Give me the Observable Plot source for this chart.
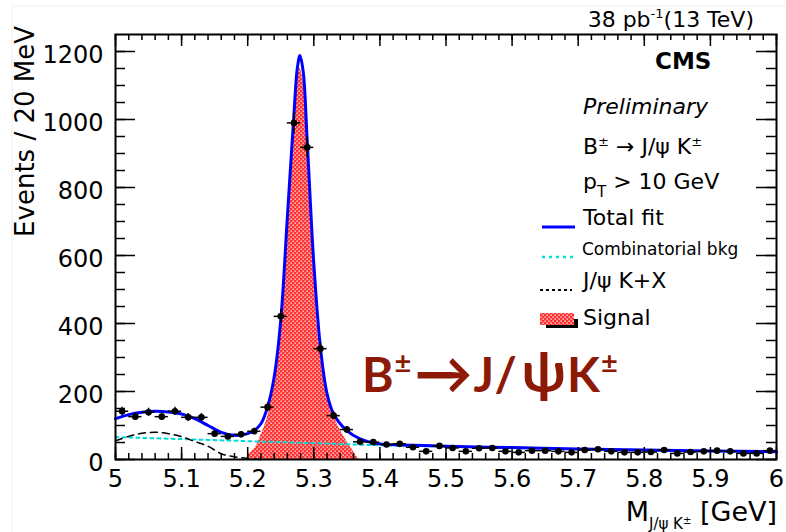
<!DOCTYPE html>
<html><head><meta charset="utf-8">
<script src="https://cdn.jsdelivr.net/npm/d3@7"></script>
<script src="https://cdn.jsdelivr.net/npm/@observablehq/plot@0.6"></script>
<style>
body{margin:0;background:#fff;}
#wrap{position:relative;width:786px;height:532px;overflow:hidden;font-family:"DejaVu Sans",sans-serif;color:#000;background:#fff;}
.t{position:absolute;white-space:nowrap;line-height:1;}
#wrap svg{position:absolute;left:0;top:0;}
</style></head><body><div id="wrap"></div>
<script>
// ---- data ----
const binCenters = [5.01,5.03,5.05,5.07,5.09,5.11,5.13,5.15,5.17,5.19,5.21,5.23,5.25,5.27,5.29,5.31,5.33,5.35,5.37,5.39,
  5.41,5.43,5.45,5.47,5.49,5.51,5.53,5.55,5.57,5.59,5.61,5.63,5.65,5.67,5.69,5.71,5.73,5.75,5.77,5.79,
  5.81,5.83,5.85,5.87,5.89,5.91,5.93,5.95,5.97,5.99];
const binCounts = [142,126,139,126,142,124,124,76,68,74,83,154,421,990,918,326,129,88,52,51,
  44,46,36,24,40,34,24,33,34,24,21,26,26,24,21,28,30,24,21,21,
  22,28,18,22,24,26,24,18,18,26];

const fitX = [5.00,5.02,5.04,5.06,5.08,5.10,5.12,5.14,5.16,5.18,5.20,5.21,5.22,5.23,5.24,5.25,5.26,5.27,5.275,5.279,5.284,5.29,5.30,5.31,5.32,5.33,5.35,5.37,5.40,5.45,5.50,5.60,5.70,5.80,5.90,6.00];
const fitY = [120,132,139,142,140,134,120,100,80,71,76,85,105,154,242,409,713,1017,1150,1188,1140,938,576,330,194,134,85,61,46,42,39,35,31,28,25,23];

const signalX = [5.199,5.202,5.212,5.219,5.230,5.237,5.245,5.252,5.26,5.27,5.275,5.279,5.284,5.29,5.30,5.308,5.32,5.33,5.34,5.355,5.368];
const signalY = [0,15,36,66,124,193,291,419,690,995,1120,1150,1110,915,550,340,190,130,86,38,0];

const combX = [5.0,5.1,5.2,5.3,5.4,5.5,5.6,5.7,5.8,5.9,6.0];
const combY = [66,60,54,48,42,38,34,30,27,24,22];

const jpsiX = [5.00,5.02,5.04,5.06,5.08,5.10,5.12,5.14,5.16,5.18,5.20,5.22];
const jpsiY = [55,68,77,80,76,67,53,39,17,8,3,0];

const xTicks = [5,5.1,5.2,5.3,5.4,5.5,5.6,5.7,5.8,5.9,6];
const xTickLabels = ["5","5.1","5.2","5.3","5.4","5.5","5.6","5.7","5.8","5.9","6"];
const yTicks = [0,200,400,600,800,1000,1200];
const yTickLabels = ["0","200","400","600","800","1000","1200"];
const binHalfWidth = 0.01;

// ---- build ----
const pts = binCenters.map((x,i)=>({x, n: binCounts[i]}));
const fit = fitX.map((x,i)=>({x, y: fitY[i]}));
const sig = signalX.map((x,i)=>({x, y: signalY[i]}));
const comb = combX.map((x,i)=>({x, y: combY[i]}));
const jpsi = jpsiX.map((x,i)=>({x, y: jpsiY[i]}));

const W=786, H=532, mL=115, mR=10, mT=34, mB=73;
const pw = W-mL-mR, ph = H-mT-mB;
const xMinor = d3.range(0, 51).map(i => 5 + i*0.02);
const yMinor = d3.range(0, 25).map(i => i*50);

const patternHTML = id => '<pattern id="' + id + '" width="4" height="4" patternUnits="userSpaceOnUse">' +
  '<rect width="4" height="4" fill="#ff3030"/><rect x="0.5" y="0.5" width="1.3" height="1.3" fill="#ffffff"/><rect x="2.5" y="2.5" width="1.3" height="1.3" fill="#ffffff"/></pattern>';

const svg = Plot.plot({
  width: W, height: H, marginLeft: mL, marginRight: mR, marginTop: mT, marginBottom: mB,
  x: {domain: [5, 6]},
  y: {domain: [0, 1250]},
  style: {fontFamily: "DejaVu Sans, sans-serif", fontSize: "24px", color: "#000", background: "transparent", overflow: "visible"},
  marks: [
    Plot.areaY(sig, {x: "x", y: "y", fill: "url(#chk)", curve: "catmull-rom"}),
    Plot.line(comb, {x: "x", y: "y", stroke: "#00dada", strokeWidth: 2, strokeDasharray: "3,4", curve: "catmull-rom"}),
    Plot.line(jpsi, {x: "x", y: "y", stroke: "#000", strokeWidth: 1.5, strokeDasharray: "7,5", curve: "catmull-rom"}),
    Plot.line(fit, {x: "x", y: "y", stroke: "#0000ff", strokeWidth: 3, curve: "catmull-rom"}),
    Plot.ruleY(pts, {y: "n", x1: d => d.x - binHalfWidth, x2: d => d.x + binHalfWidth, stroke: "#000", strokeWidth: 1.5}),
    Plot.ruleX(pts, {x: "x", y1: d => d.n - Math.sqrt(d.n), y2: d => d.n + Math.sqrt(d.n), stroke: "#000", strokeWidth: 1.5}),
    Plot.dot(pts, {x: "x", y: "n", r: 3.3, fill: "#000"}),
    // inside ticks, ROOT style
    Plot.tickX(xMinor, {x: d => d, insetTop: ph - 6, stroke: "#000", strokeWidth: 1.5}),
    Plot.tickX(xTicks, {x: d => d, insetTop: ph - 12, stroke: "#000", strokeWidth: 1.5}),
    Plot.tickX(xMinor, {x: d => d, insetBottom: ph - 6, stroke: "#000", strokeWidth: 1.5}),
    Plot.tickX(xTicks, {x: d => d, insetBottom: ph - 12, stroke: "#000", strokeWidth: 1.5}),
    Plot.tickY(yMinor, {y: d => d, insetRight: pw - 10, stroke: "#000", strokeWidth: 1.5}),
    Plot.tickY(yTicks, {y: d => d, insetRight: pw - 20, stroke: "#000", strokeWidth: 1.5}),
    Plot.tickY(yMinor, {y: d => d, insetLeft: pw - 10, stroke: "#000", strokeWidth: 1.5}),
    Plot.tickY(yTicks, {y: d => d, insetLeft: pw - 20, stroke: "#000", strokeWidth: 1.5}),
    Plot.frame({stroke: "#000", strokeWidth: 2}),
    Plot.axisX({ticks: xTicks, tickSize: 0, tickPadding: 10, tickFormat: d => xTickLabels[xTicks.indexOf(d)], label: null}),
    Plot.axisY({ticks: yTicks, tickSize: 0, tickPadding: 12, dy: 4, tickFormat: d => yTickLabels[yTicks.indexOf(d)], label: null})
  ]
});

d3.select(svg).insert("defs", ":first-child").html(patternHTML("chk"));

const wrap = document.getElementById("wrap");
wrap.appendChild(svg);

// overlay: legend samples and faint image border
const ov = d3.select(wrap).append("svg").attr("width", W).attr("height", H).style("pointer-events", "none");
ov.append("defs").html(patternHTML("chk2"));
ov.append("line").attr("x1", 12).attr("x2", 12).attr("y1", 6).attr("y2", H).attr("stroke", "#eeeeee");
ov.append("line").attr("x1", 12).attr("x2", W).attr("y1", 6).attr("y2", 6).attr("stroke", "#eeeeee");
ov.append("line").attr("x1", 542).attr("x2", 575).attr("y1", 227).attr("y2", 227).attr("stroke", "#0000ff").attr("stroke-width", 3);
ov.append("line").attr("x1", 542).attr("x2", 575).attr("y1", 257).attr("y2", 257).attr("stroke", "#00e0e0").attr("stroke-width", 2.5).attr("stroke-dasharray", "3,4");
ov.append("line").attr("x1", 540).attr("x2", 572).attr("y1", 290).attr("y2", 290).attr("stroke", "#000").attr("stroke-width", 2).attr("stroke-dasharray", "3,3");
ov.append("rect").attr("x", 546).attr("y", 319).attr("width", 32).attr("height", 9).attr("fill", "#000");
ov.append("rect").attr("x", 540).attr("y", 313).attr("width", 34).attr("height", 12).attr("fill", "url(#chk2)");

function txt(html, css) {
  const d = document.createElement("div");
  d.className = "t";
  d.innerHTML = html;
  Object.assign(d.style, css);
  wrap.appendChild(d);
  return d;
}
// axis titles
txt("Events / 20 MeV", {left: "12px", top: "286px", width: "260px", textAlign: "right", fontSize: "26px", transformOrigin: "0 0", transform: "rotate(-90deg)"});
txt('M<span style="font-size:15px;position:relative;top:8px;">J/ψ K<span style="font-size:10px;position:relative;top:-5px;">±</span></span> [GeV]',
  {left: "0px", width: "777px", textAlign: "right", top: "498px", fontSize: "27px"});
txt('38 pb<span style="font-size:13px;position:relative;top:-9px;">-1</span>(13 TeV)', {left: "0px", width: "754px", textAlign: "right", top: "9px", fontSize: "22px"});
// legend block
txt("CMS", {left: "655px", top: "50px", fontSize: "23px", fontWeight: "bold"});
txt("Preliminary", {left: "583px", top: "96px", fontSize: "22px", fontStyle: "italic"});
txt('B<span style="font-size:13px;position:relative;top:-8px;">±</span> → J/ψ K<span style="font-size:13px;position:relative;top:-8px;">±</span>', {left: "583px", top: "136px", fontSize: "22px"});
txt('p<span style="font-size:15px;position:relative;top:8px;">T</span> &gt; 10 GeV', {left: "583px", top: "171px", fontSize: "22px"});
txt("Total fit", {left: "583px", top: "207px", fontSize: "22px"});
txt("Combinatorial bkg", {left: "582px", top: "241px", fontSize: "17px"});
txt("J/ψ K+X", {left: "583px", top: "270px", fontSize: "22px"});
txt("Signal", {left: "583px", top: "307px", fontSize: "22px"});
// big annotation
txt('B<span style="font-size:29px;position:relative;top:-19px;">±</span>' +
    '<span style="font-size:58px;position:relative;top:2px;margin-left:2px;">→</span>J/<span style="font-size:56px;margin-left:4px;">ψ</span>K' +
    '<span style="font-size:29px;position:relative;top:-19px;">±</span>',
  {left: "362px", top: "341px", fontSize: "48px", letterSpacing: "1px", fontWeight: "bold", fontFamily: "Lato, 'Open Sans', sans-serif", color: "#8c1a06"});
</script></body></html>
